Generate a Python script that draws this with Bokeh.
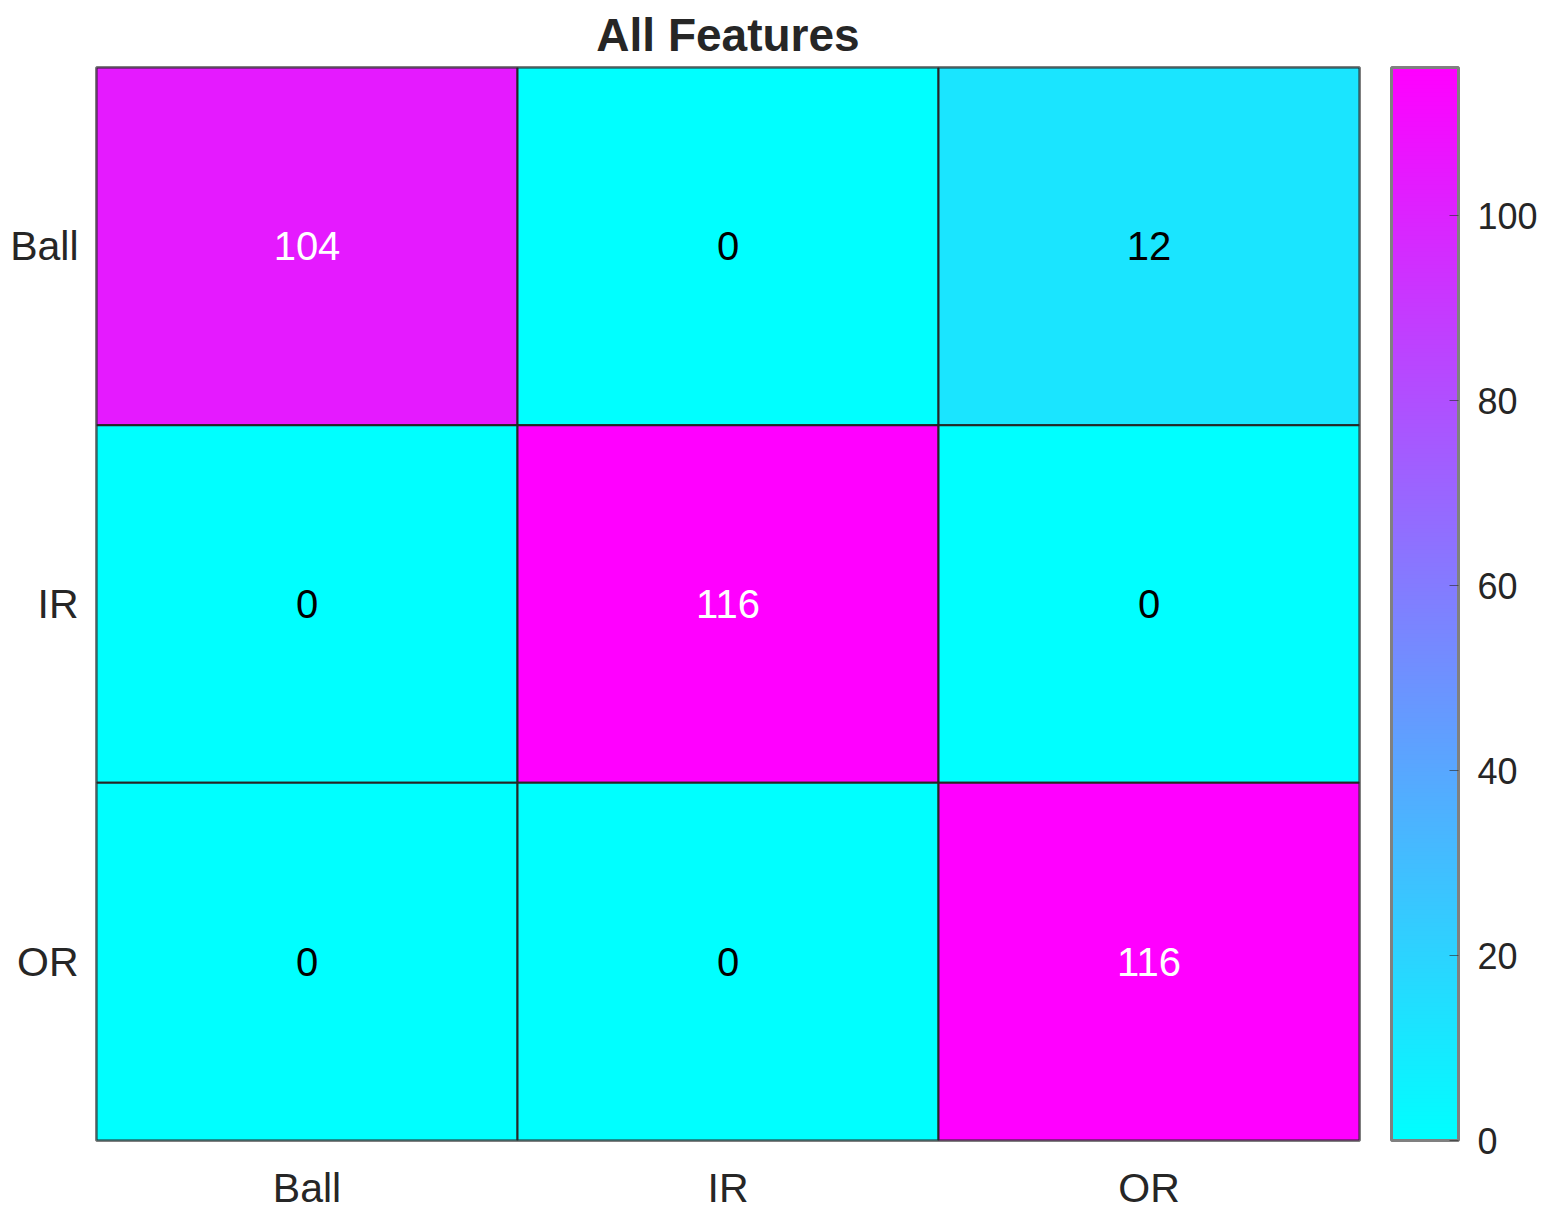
from bokeh.plotting import figure
from bokeh.models import LinearColorMapper, ColorBar, FixedTicker, ColumnDataSource
from bokeh.transform import transform
from bokeh.core.properties import value
from bokeh.embed import file_html
from bokeh.resources import INLINE

# ---- data ----
categories = ["Ball", "IR", "OR"]
true_class = ["Ball", "Ball", "Ball", "IR", "IR", "IR", "OR", "OR", "OR"]
pred_class = ["Ball", "IR", "OR", "Ball", "IR", "OR", "Ball", "IR", "OR"]
counts = [104, 0, 12, 0, 116, 0, 0, 0, 116]
cbar_ticks = [0, 20, 40, 60, 80, 100]
title_text = "All Features"

# 'cool' colormap (cyan -> magenta)
N = 256
palette = ["#%02x%02x%02x" % (round(255 * i / (N - 1)), round(255 * (1 - i / (N - 1))), 255) for i in range(N)]
cmin, cmax = 0, max(counts)
mapper = LinearColorMapper(palette=palette, low=cmin, high=cmax)

text_colors = ["#ffffff" if c > cmax / 2 else "#000000" for c in counts]
source = ColumnDataSource(dict(true=true_class, pred=pred_class, count=counts,
                               label=[str(c) for c in counts], tcolor=text_colors))

FONT = "Liberation Sans"
FL, FT, FW, FH = 96, 59, 1263, 1073

p = figure(frame_width=FW, frame_height=FH, x_range=categories, y_range=list(reversed(categories)),
           output_backend="svg", toolbar_location=None, title=title_text,
           min_border_left=FL, min_border_top=FT,
           min_border_right=175, min_border_bottom=50)

p.rect(x="pred", y="true", width=1, height=1, source=source,
       fill_color=transform("count", mapper), line_color="#262626", line_width=2)
p.text(x="pred", y="true", text="label", source=source, text_align="center",
       text_baseline="middle", text_font_size="40px", text_color="tcolor",
       text_font=value(FONT))

p.title.text_font = FONT
p.title.text_font_size = "46px"
p.title.text_font_style = "bold"
p.title.text_color = "#262626"
p.title.align = "center"
p.title.standoff = 13
p.title.text_line_height = 0.7

p.grid.visible = False
p.outline_line_color = "#808080"
p.outline_line_width = 3
for ax in (p.xaxis, p.yaxis):
    ax.axis_line_color = None
    ax.major_tick_line_color = None
    ax.minor_tick_line_color = None
    ax.major_label_text_font = FONT
    ax.major_label_text_font_size = "41px"
    ax.major_label_text_color = "#262626"
p.xaxis.major_label_standoff = 18
p.yaxis.major_label_standoff = 12

cb = ColorBar(color_mapper=mapper, ticker=FixedTicker(ticks=cbar_ticks),
              width=67, height=FH, padding=0, margin=0, location=(32, 0),
              label_standoff=19,
              major_label_text_font=FONT, major_label_text_font_size="36px",
              major_label_text_color="#262626",
              major_tick_in=9, major_tick_out=0, major_tick_line_color="#262626",
              major_tick_line_alpha=0.6, minor_tick_line_color=None,
              bar_line_color="#808080", bar_line_width=3,
              background_fill_alpha=0, border_line_color=None)
p.add_layout(cb, "right")

open("out.html", "w").write(file_html(p, INLINE))
